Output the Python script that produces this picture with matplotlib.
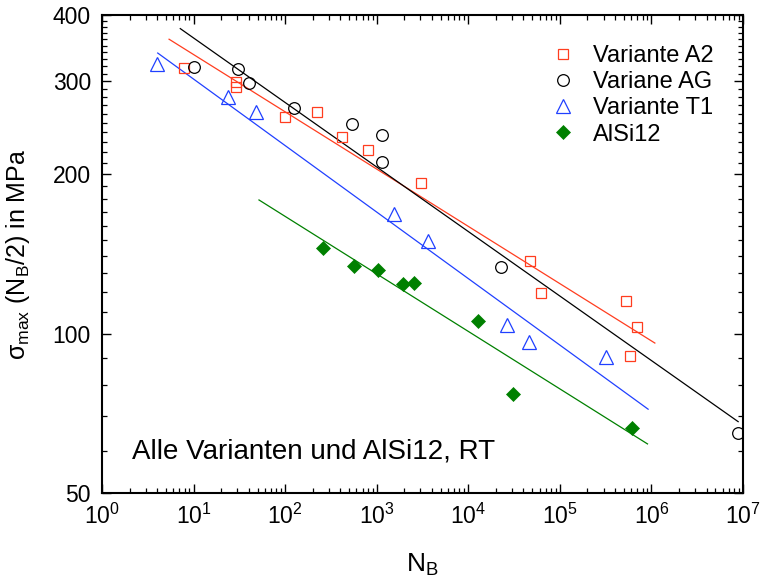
import matplotlib
matplotlib.use("Agg")
from matplotlib import pyplot as plt
from matplotlib.ticker import FixedLocator, NullFormatter, LogLocator

plt.rcParams["font.family"] = ["Liberation Sans", "DejaVu Sans"]
plt.rcParams["mathtext.fontset"] = "custom"
plt.rcParams["mathtext.rm"] = "Liberation Sans"
plt.rcParams["mathtext.it"] = "Liberation Sans:italic"
plt.rcParams["mathtext.default"] = "regular"

# Variante A2
a2_n = [7.9, 29, 29, 99.5, 221, 420, 808, 3015, 47000, 61500, 525000, 698000, 581000]
a2_s = [318, 299, 293, 257, 262, 235.5, 222, 193, 137, 119.5, 115.4, 102.8, 90.7]
a2_fit_n = [5.4, 1.09e6]
a2_fit_s = [360, 96]

# Variane AG
ag_n = [10, 30.8, 40.6, 125, 532, 1148, 1148, 22500, 8.85e6]
ag_s = [319.6, 316, 298, 267, 248.6, 237.3, 210.7, 133.5, 64.9]
ag_fit_n = [7.16, 8.85e6]
ag_fit_s = [377, 68.2]

# Variante T1
t1_n = [3.95, 23.9, 48, 1541, 3595, 26600, 46200, 318000]
t1_s = [323.5, 279.7, 262, 168.3, 149.9, 103.9, 96.5, 90.2]
t1_fit_n = [4.06, 9.2e5]
t1_fit_s = [339, 72.0]

# AlSi12
al_n = [260.6, 564, 1038, 1946, 2548, 12800, 30400, 606000]
al_s = [144.9, 134.3, 131.9, 124.1, 124.8, 105.8, 76.8, 66.3]
al_fit_n = [51.8, 9.06e5]
al_fit_s = [178.9, 61.9]

red = "#ff3d1f"
black = "#000000"
blue = "#2040ff"
green = "#008000"

fig = plt.figure(figsize=(7.62, 5.86), dpi=100)
ax = fig.add_axes([102 / 762, 1 - 493 / 586, 641 / 762, 478 / 586])

ax.plot(a2_fit_n, a2_fit_s, color=red, lw=0.9)
ax.plot(ag_fit_n, ag_fit_s, color=black, lw=0.9)
ax.plot(t1_fit_n, t1_fit_s, color=blue, lw=0.9)
ax.plot(al_fit_n, al_fit_s, color=green, lw=0.9)

ax.plot(a2_n, a2_s, ls="none", marker="s", ms=7.6, mfc="none", mec=red, mew=0.9,
        label="Variante A2")
ax.plot(ag_n, ag_s, ls="none", marker="o", ms=8.4, mfc="none", mec=black, mew=0.9,
        label="Variane AG")
ax.plot(t1_n, t1_s, ls="none", marker="^", ms=9.6, mfc="none", mec=blue, mew=0.9,
        label="Variante T1")
ax.plot(al_n, al_s, ls="none", marker="D", ms=7.2, mfc=green, mec=green, mew=0.5,
        label="AlSi12")

ax.set_xscale("log")
ax.set_yscale("log")
ax.set_xlim(1, 1e7)
ax.set_ylim(50, 400)

ax.xaxis.set_major_locator(LogLocator(base=10, numticks=20))
ax.xaxis.set_minor_locator(LogLocator(base=10, subs=range(2, 10), numticks=20))
ax.xaxis.set_minor_formatter(NullFormatter())

y_major = [50, 100, 200, 300, 400]
y_minor = [v for v in range(60, 400, 10) if v not in y_major]
ax.yaxis.set_major_locator(FixedLocator(y_major))
ax.yaxis.set_minor_locator(FixedLocator(y_minor))
ax.set_yticklabels([str(v) for v in y_major])
ax.yaxis.set_minor_formatter(NullFormatter())

for s in ax.spines.values():
    s.set_linewidth(1.5)
ax.tick_params(which="both", direction="in", top=True, right=True, labelsize=16.5)
ax.tick_params(which="major", length=6.5, width=1.0, pad=8)
ax.tick_params(which="minor", length=3.6, width=0.9)

ax.set_xlabel(r"N$_{\rm B}$", fontsize=19, labelpad=16)
ax.set_ylabel(r"$\sigma_{\rm max}$ (N$_{\rm B}$/2) in MPa", fontsize=18, labelpad=15)

ax.text(0.047, 0.073, "Alle Varianten und AlSi12, RT", transform=ax.transAxes,
        fontsize=20, va="baseline", ha="left")

ax.legend(loc="upper left", bbox_to_anchor=(549 / 762, 1 - 45 / 586),
          bbox_transform=fig.transFigure, frameon=False, fontsize=17,
          handletextpad=0.65, labelspacing=0.18, borderaxespad=0, borderpad=0,
          handlelength=1.2)

fig.savefig("out.png", dpi=100)
